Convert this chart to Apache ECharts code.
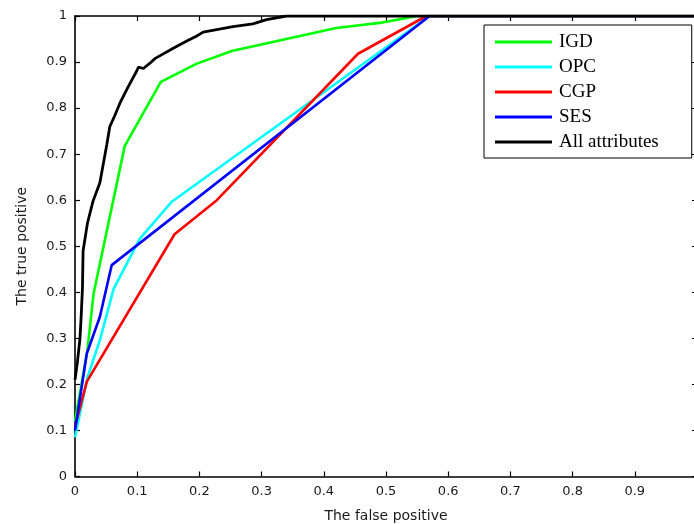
<!DOCTYPE html>
<html>
<head>
<meta charset="utf-8">
<script src="https://cdn.jsdelivr.net/npm/echarts@6/dist/echarts.min.js"></script>
<style>
  html, body { margin: 0; padding: 0; background: #fff; }
  #chart { width: 694px; height: 524px; }
</style>
</head>
<body>
<div id="chart"></div>
<script>
// ROC curves: false positive rate (x) vs true positive rate (y)
const seriesNames = ['IGD', 'OPC', 'CGP', 'SES', 'All attributes'];
const seriesColors = ['#00ff00', '#00ffff', '#ff0000', '#0000ff', '#000000'];

const igdFpr = [0, 0.02, 0.03, 0.08, 0.138, 0.195, 0.252, 0.42, 0.49, 0.55, 1];
const igdTpr = [0.12, 0.275, 0.398, 0.718, 0.857, 0.896, 0.924, 0.974, 0.985, 1, 1];

const opcFpr = [0, 0.02, 0.04, 0.062, 0.104, 0.155, 0.57, 1];
const opcTpr = [0.085, 0.215, 0.296, 0.407, 0.516, 0.596, 1, 1];

const cgpFpr = [0, 0.019, 0.16, 0.228, 0.455, 0.565, 1];
const cgpTpr = [0.108, 0.206, 0.526, 0.6, 0.918, 1, 1];

const sesFpr = [0, 0.019, 0.04, 0.059, 0.57, 1];
const sesTpr = [0.1, 0.267, 0.347, 0.459, 1, 1];

const allFpr = [0, 0.004, 0.008, 0.01, 0.012, 0.013, 0.02, 0.029, 0.04, 0.051, 0.056,
  0.064, 0.072, 0.085, 0.099, 0.102, 0.11, 0.12, 0.129, 0.158, 0.179, 0.195,
  0.206, 0.254, 0.286, 0.308, 0.34, 0.4, 1];
const allTpr = [0.21, 0.25, 0.3, 0.35, 0.41, 0.49, 0.55, 0.598, 0.638, 0.72, 0.76,
  0.784, 0.81, 0.845, 0.88, 0.889, 0.886, 0.897, 0.908, 0.93, 0.945, 0.956,
  0.965, 0.977, 0.983, 0.992, 1, 1, 1];

const xTicks = ['0', '0.1', '0.2', '0.3', '0.4', '0.5', '0.6', '0.7', '0.8', '0.9'];

function pairs(xs, ys) { return xs.map((x, i) => [x, ys[i]]); }

const seriesData = [
  pairs(igdFpr, igdTpr),
  pairs(opcFpr, opcTpr),
  pairs(cgpFpr, cgpTpr),
  pairs(sesFpr, sesTpr),
  pairs(allFpr, allTpr)
];

const chart = echarts.init(document.getElementById('chart'), null, { renderer: 'canvas' });

const tickFont = () => ({ fontFamily: 'DejaVu Sans', fontSize: 13, color: '#1a1a1a' });
const frameLine = () => ({ show: true, onZero: false, lineStyle: { color: '#000', width: 1.6 } });
const innerTick = () => ({ show: true, inside: true, length: 5, lineStyle: { color: '#000', width: 1.2 } });

chart.setOption({
  animation: false,
  backgroundColor: '#fff',
  grid: { left: 75, right: -3, top: 16, bottom: 47.5, containLabel: false, outerBoundsMode: 'none' },
  xAxis: [
    {
      type: 'value', min: 0, max: 1, interval: 0.1, position: 'bottom',
      name: 'The false positive', nameLocation: 'middle', nameGap: 33,
      nameTextStyle: { fontFamily: 'DejaVu Sans', fontSize: 14, color: '#1a1a1a' },
      axisLine: frameLine(), axisTick: innerTick(), splitLine: { show: false },
      axisLabel: Object.assign({ margin: 9, showMaxLabel: false,
        formatter: (v) => { const i = Math.round(v * 10); return i < xTicks.length ? xTicks[i] : ''; } }, tickFont())
    },
    {
      type: 'value', min: 0, max: 1, interval: 0.1, position: 'top',
      axisLine: frameLine(), axisTick: innerTick(), axisLabel: { show: false }, splitLine: { show: false }
    }
  ],
  yAxis: [
    {
      type: 'value', min: 0, max: 1, interval: 0.1, position: 'left',
      name: 'The true positive', nameLocation: 'middle', nameGap: 46,
      nameTextStyle: { fontFamily: 'DejaVu Sans', fontSize: 14, color: '#1a1a1a' },
      axisLine: frameLine(), axisTick: innerTick(), splitLine: { show: false },
      axisLabel: Object.assign({ margin: 8 }, tickFont())
    },
    {
      type: 'value', min: 0, max: 1, interval: 0.1, position: 'right',
      axisLine: frameLine(), axisTick: innerTick(), axisLabel: { show: false }, splitLine: { show: false }
    }
  ],
  legend: {
    left: 484, top: 25, orient: 'vertical',
    backgroundColor: '#fff', borderColor: '#000', borderWidth: 1,
    padding: [7, 33, 6, 11],
    itemWidth: 57, itemHeight: 3, itemGap: 5,
    icon: 'rect',
    textStyle: { fontFamily: 'Liberation Serif', fontSize: 19, color: '#000', lineHeight: 20, padding: [0, 0, 0, 2] },
    data: seriesNames
  },
  series: seriesNames.map((name, i) => ({
    name: name,
    type: 'line',
    data: seriesData[i],
    showSymbol: false,
    symbol: 'none',
    color: seriesColors[i],
    lineStyle: { color: seriesColors[i], width: i === 4 ? 2.8 : 2.6 },
    z: 2 + i
  }))
});
</script>
</body>
</html>
